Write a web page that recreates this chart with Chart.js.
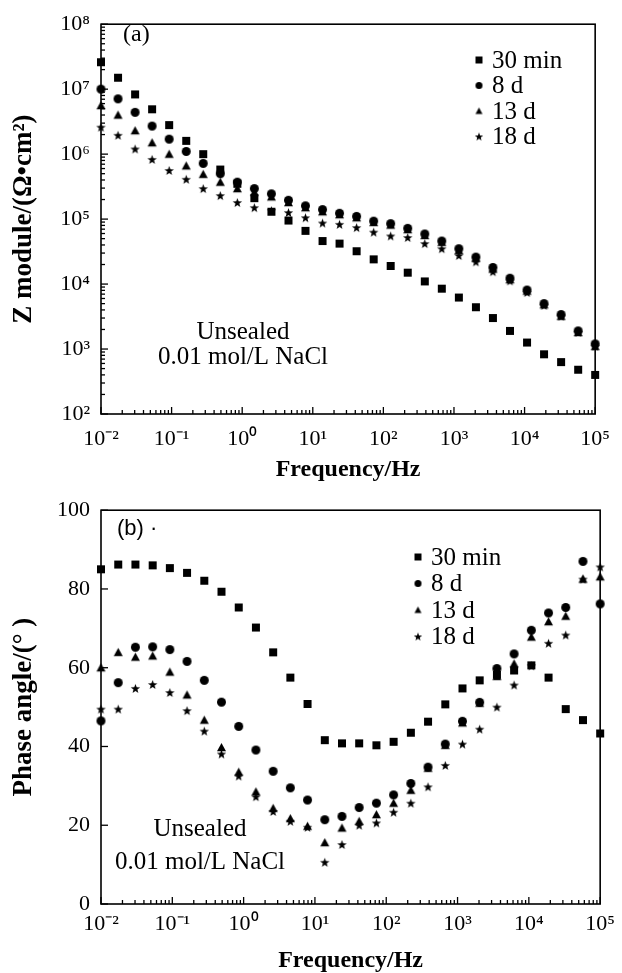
<!DOCTYPE html>
<html><head><meta charset="utf-8">
<script src="https://cdn.jsdelivr.net/npm/chart.js@4/dist/chart.umd.min.js"></script>
<style>
html,body{margin:0;padding:0;background:#fff;}
#wrap{position:relative;width:622px;height:973px;overflow:hidden;}
canvas{position:absolute;left:0;}
</style></head><body>
<div id="wrap">
<canvas id="ca" width="622" height="486" style="top:0px"></canvas>
<canvas id="cb" width="622" height="487" style="top:486px"></canvas>
</div>
<script>
// ---------- data ----------
const frequencies = [0.01, 0.01743, 0.03039, 0.05298, 0.09237, 0.1610, 0.2807, 0.4894, 0.8532, 1.487,
  2.593, 4.520, 7.880, 13.74, 23.95, 41.75, 72.79, 126.9, 221.2, 385.7,
  672.4, 1172, 2044, 3563, 6212, 10830, 18880, 32910, 57380, 100000];
const seriesLabels = ['30 min', '8 d', '13 d', '18 d'];

// (a) |Z| module, Ohm*cm^2
const zMin30 = [2.6e7, 1.5e7, 8.3e6, 4.9e6, 2.8e6, 1.6e6, 1.0e6, 5.8e5, 3.5e5, 2.1e5,
  1.3e5, 9.5e4, 6.6e4, 4.6e4, 4.2e4, 3.2e4, 2.4e4, 1.9e4, 1.5e4, 1.1e4,
  8.5e3, 6.2e3, 4.4e3, 3.0e3, 1.9e3, 1.26e3, 830, 630, 480, 400];
const zDay8 = [1.0e7, 7.1e6, 4.4e6, 2.7e6, 1.7e6, 1.1e6, 7.2e5, 5.0e5, 3.7e5, 2.95e5,
  2.45e5, 1.95e5, 1.6e5, 1.4e5, 1.23e5, 1.1e5, 9.3e4, 8.5e4, 7.2e4, 5.9e4,
  4.6e4, 3.5e4, 2.6e4, 1.8e4, 1.23e4, 8.1e3, 5.0e3, 3.4e3, 1.9e3, 1.2e3];
const zDay13 = [5.6e6, 4.0e6, 2.3e6, 1.5e6, 1.0e6, 6.6e5, 4.9e5, 3.7e5, 2.95e5, 2.6e5,
  2.2e5, 1.8e5, 1.5e5, 1.3e5, 1.17e5, 1.05e5, 8.9e4, 8.1e4, 6.9e4, 5.6e4,
  4.4e4, 3.3e4, 2.5e4, 1.7e4, 1.17e4, 7.8e3, 4.8e3, 3.2e3, 1.8e3, 1.1e3];
const zDay18 = [2.6e6, 1.95e6, 1.2e6, 8.3e5, 5.6e5, 4.1e5, 2.95e5, 2.3e5, 1.8e5, 1.5e5,
  1.35e5, 1.26e5, 1.05e5, 8.7e4, 8.3e4, 7.4e4, 6.3e4, 5.5e4, 5.2e4, 4.2e4,
  3.5e4, 2.75e4, 2.2e4, 1.55e4, 1.12e4, 7.4e3, 4.7e3, 3.2e3, 1.8e3, 1.1e3];

// (b) phase angle, degrees
const phMin30 = [85, 86.2, 86.2, 86, 85.3, 84.1, 82.1, 79.3, 75.3, 70.2,
  63.9, 57.5, 50.8, 41.6, 40.8, 40.8, 40.3, 41.2, 43.5, 46.3,
  50.7, 54.75, 56.8, 58.2, 59.3, 60.6, 57.5, 49.5, 46.7, 43.3];
const phDay8 = [46.5, 56.2, 65.2, 65.3, 64.6, 61.6, 56.8, 51.25, 45.1, 39.1,
  33.7, 29.5, 26.4, 21.4, 22.25, 24.5, 25.6, 27.7, 30.6, 34.75,
  40.6, 46.4, 51.2, 59.8, 63.5, 69.5, 73.9, 75.3, 87, 76.2];
const phDay13 = [60, 63.9, 62.7, 63, 58.9, 53.1, 46.7, 39.75, 33.5, 28.5,
  24.3, 21.7, 19.75, 15.6, 19.3, 21, 22.7, 25.6, 28.9, 34.5,
  40.3, 46, 51, 57.8, 61, 67.8, 71.7, 73.1, 82.5, 83.1];
const phDay18 = [49.5, 49.5, 54.75, 55.75, 53.7, 49.1, 43.9, 38.1, 32.5, 27.25,
  23.5, 21, 19.5, 10.6, 15.1, 20, 20.6, 23.3, 25.6, 29.75,
  35.2, 40.6, 44.4, 50, 55.6, 60.5, 66.2, 68.3, 82.5, 85.6];

// tick labels
const xTickExponents = [-2, -1, 0, 1, 2, 3, 4, 5];
const zTickExponents = [2, 3, 4, 5, 6, 7, 8];
const phaseTicks = [0, 20, 40, 60, 80, 100];

// ---------- helpers ----------
const SERIF = '"Liberation Serif", "Times New Roman", serif';
const supMap = {'-':'\u207B','0':'\u2070','1':'\u00B9','2':'\u00B2','3':'\u00B3','4':'\u2074','5':'\u2075','6':'\u2076','7':'\u2077','8':'\u2078','9':'\u2079'};
const powLabel = e => '10' + String(e).split('').map(c => supMap[c]).join('');
const isPow10 = v => { const l = Math.log10(v); return Math.abs(l - Math.round(l)) < 1e-6; };
function logTicks(exps) {
  const t = [];
  const lo = exps[0], hi = exps[exps.length - 1];
  for (let e = lo; e < hi; e++) for (let m = 1; m < 10; m++) t.push({value: +(m * Math.pow(10, e)).toPrecision(6)});
  t.push({value: Math.pow(10, hi)});
  return t;
}

function makeMarker(shape, s) {
  const c = document.createElement('canvas');
  c.width = s + 2; c.height = s + 2;
  const g = c.getContext('2d');
  const cx = c.width / 2, cy = c.height / 2, r = s / 2;
  g.fillStyle = '#000';
  g.beginPath();
  if (shape === 'square') { g.rect(cx - r, cy - r, s, s); }
  else if (shape === 'circle') { g.arc(cx, cy, r, 0, Math.PI * 2); }
  else if (shape === 'triangle') { g.moveTo(cx, cy - r); g.lineTo(cx + r, cy + r * 0.85); g.lineTo(cx - r, cy + r * 0.85); g.closePath(); }
  else if (shape === 'star') {
    for (let i = 0; i < 10; i++) {
      const rr = i % 2 === 0 ? r * 1.1 : r * 0.45;
      const a = -Math.PI / 2 + i * Math.PI / 5;
      const px = cx + rr * Math.cos(a), py = cy + rr * Math.sin(a) + r * 0.1;
      if (i === 0) g.moveTo(px, py); else g.lineTo(px, py);
    }
    g.closePath();
  }
  g.fill();
  return c;
}
const shapes = ['square', 'circle', 'triangle', 'star'];
const markers = shapes.map((s, i) => makeMarker(s, [8, 9, 9, 9][i]));
const legendMarkers = shapes.map((s, i) => makeMarker(s, [7, 7, 7, 8][i]));

function buildDatasets(seriesArr) {
  return seriesArr.map((vals, i) => ({
    label: seriesLabels[i],
    data: frequencies.map((f, k) => ({x: f, y: vals[k]})),
    pointStyle: markers[i],
    pointRadius: 5,
    showLine: false,
    clip: false
  }));
}

function framePlugin(yLog) {
  return {
    id: 'frame',
    beforeDatasetsDraw(chart) {
      const {ctx, chartArea: a, scales} = chart;
      ctx.save();
      ctx.strokeStyle = '#000';
      ctx.lineWidth = 1.6;
      ctx.strokeRect(a.left, a.top, a.right - a.left, a.bottom - a.top);
      ctx.lineWidth = 1.3;
      scales.x.ticks.forEach(t => {
        const px = scales.x.getPixelForValue(t.value);
        const len = isPow10(t.value) ? 7 : 4;
        ctx.beginPath(); ctx.moveTo(px, a.bottom); ctx.lineTo(px, a.bottom - len); ctx.stroke();
      });
      scales.y.ticks.forEach(t => {
        const py = scales.y.getPixelForValue(t.value);
        const len = yLog ? (isPow10(t.value) ? 7 : 4) : 7;
        ctx.beginPath(); ctx.moveTo(a.left, py); ctx.lineTo(a.left + len, py); ctx.stroke();
      });
      ctx.restore();
    }
  };
}

function annotPlugin(cfg) {
  return {
    id: 'annot',
    afterDatasetsDraw(chart) {
      const ctx = chart.ctx;
      ctx.save();
      ctx.fillStyle = '#000';
      ctx.textBaseline = 'middle';
      ctx.font = cfg.tagFont;
      ctx.textAlign = 'left';
      ctx.fillText(cfg.tag, cfg.tagX, cfg.tagY);
      ctx.font = '25px ' + SERIF;
      ctx.textAlign = 'center';
      cfg.note.forEach((line, i) => ctx.fillText(line, cfg.noteX, cfg.noteY + i * cfg.noteGap));
      ctx.textAlign = 'left';
      ctx.font = '25px ' + SERIF;
      seriesLabels.forEach((lab, i) => {
        const y = cfg.legY + i * cfg.legGap;
        const m = legendMarkers[i];
        ctx.drawImage(m, cfg.legX - m.width / 2, y - m.height / 2);
        ctx.fillText(lab, cfg.legX + 13, y + 1);
      });
      ctx.restore();
    }
  };
}

function xScale(padding, titlePadBottom, height) {
  return {
    type: 'logarithmic',
    position: 'bottom',
    min: Math.pow(10, xTickExponents[0]),
    max: Math.pow(10, xTickExponents[xTickExponents.length - 1]),
    afterBuildTicks: s => { s.ticks = logTicks(xTickExponents); },
    afterFit: s => { s.height = height; },
    grid: {display: false, drawTicks: false},
    border: {display: false},
    ticks: {
      autoSkip: false, maxRotation: 0, minRotation: 0, padding: padding, color: '#000',
      font: {family: SERIF, size: 22},
      callback: v => isPow10(v) ? powLabel(Math.round(Math.log10(v))) : ''
    },
    title: {display: true, text: 'Frequency/Hz', color: '#000',
      font: {family: SERIF, size: 24, weight: 'bold', lineHeight: 1},
      padding: {top: 0, bottom: titlePadBottom}}
  };
}

const common = {
  responsive: false,
  animation: false,
  events: [],
  plugins: {legend: {display: false}, tooltip: {enabled: false}}
};

// ---------- chart (a) ----------
new Chart(document.getElementById('ca'), {
  type: 'scatter',
  data: {datasets: buildDatasets([zMin30, zDay8, zDay13, zDay18])},
  options: Object.assign({}, common, {
    layout: {padding: {left: 0, right: 17, top: 14, bottom: 0}},
    scales: {
      x: xScale(12, 4, 72),
      y: {
        type: 'logarithmic',
        min: Math.pow(10, zTickExponents[0]),
        max: Math.pow(10, zTickExponents[zTickExponents.length - 1]),
        afterBuildTicks: s => { s.ticks = logTicks(zTickExponents); },
        afterFit: s => { s.width = 101; },
        grid: {display: false, drawTicks: false},
        border: {display: false},
        ticks: {
          autoSkip: false, padding: 11, color: '#000',
          font: {family: SERIF, size: 22},
          callback: v => isPow10(v) ? powLabel(Math.round(Math.log10(v))) : ''
        },
        title: {display: true, text: 'Z module/(\u03A9\u2022cm\u00B2)', color: '#000',
          font: {family: SERIF, size: 27, weight: 'bold', lineHeight: 1},
          padding: {top: 11, bottom: 0}}
      }
    }
  }),
  plugins: [framePlugin(true), annotPlugin({
    tag: '(a)', tagFont: '24px ' + SERIF, tagX: 123, tagY: 35,
    note: ['Unsealed', '0.01 mol/L NaCl'], noteX: 243, noteY: 332, noteGap: 25,
    legX: 479, legY: 60, legGap: 25.5
  })]
});

// ---------- chart (b) ----------
new Chart(document.getElementById('cb'), {
  type: 'scatter',
  data: {datasets: buildDatasets([phMin30, phDay8, phDay13, phDay18])},
  options: Object.assign({}, common, {
    layout: {padding: {left: 0, right: 18, top: 18, bottom: 0}},
    scales: {
      x: xScale(7, 0, 69),
      y: {
        type: 'linear',
        min: phaseTicks[0],
        max: phaseTicks[phaseTicks.length - 1],
        afterBuildTicks: s => { s.ticks = phaseTicks.map(v => ({value: v})); },
        afterFit: s => { s.width = 101; },
        grid: {display: false, drawTicks: false},
        border: {display: false},
        ticks: {
          autoSkip: false, padding: 11, color: '#000',
          font: {family: SERIF, size: 22}
        },
        title: {display: true, text: 'Phase angle/(\u00B0 )', color: '#000',
          font: {family: SERIF, size: 27, weight: 'bold', lineHeight: 1},
          padding: {top: 11, bottom: 0}}
      }
    }
  }),
  plugins: [framePlugin(false), annotPlugin({
    tag: '(b) \u00B7', tagFont: '22px "Liberation Sans", Arial, sans-serif', tagX: 117, tagY: 43,
    note: ['Unsealed', '0.01 mol/L NaCl'], noteX: 200, noteY: 343, noteGap: 33,
    legX: 418, legY: 71, legGap: 26.5
  })]
});
</script>
</body></html>
